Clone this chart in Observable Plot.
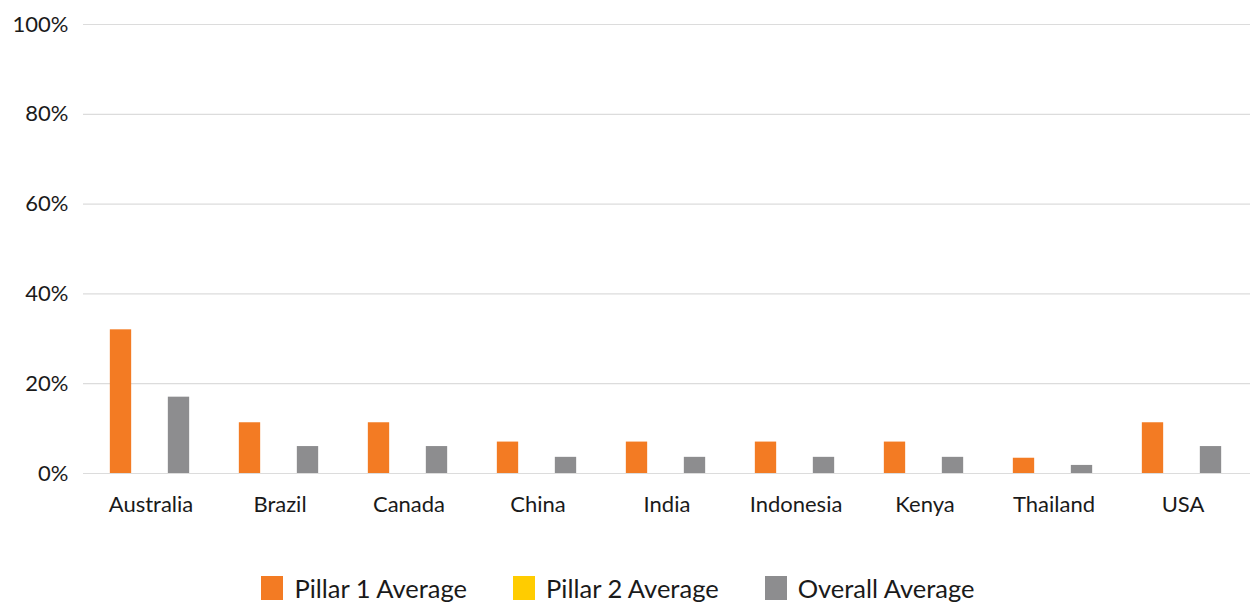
<!DOCTYPE html>
<html>
<head>
<meta charset="utf-8">
<script src="https://cdn.jsdelivr.net/npm/d3@7"></script>
<script src="https://cdn.jsdelivr.net/npm/@observablehq/plot@0.6"></script>
<style>
  html, body { margin: 0; padding: 0; background: #fff; }
  body { width: 1250px; height: 604px; overflow: hidden; font-family: Lato, "Open Sans", sans-serif; }
  #legend { display: flex; justify-content: center; align-items: center; margin-top: 23px; margin-left: -14px; font-size: 25.5px; color: #1a1a1a; }
  .item { display: flex; align-items: center; margin: 0 23px; }
  .sw { width: 22px; height: 24px; margin-right: 11px; }
</style>
</head>
<body>
<div id="chart"></div>
<div id="legend"></div>
<script>
// Countries and average scores (percent)
const countries = ["Australia", "Brazil", "Canada", "China", "India", "Indonesia", "Kenya", "Thailand", "USA"];
const pillar1 = [32, 11.3, 11.3, 7, 7, 7, 7, 3.4, 11.3];
const pillar2 = [0, 0, 0, 0, 0, 0, 0, 0, 0];
const overall = [17, 6, 6, 3.6, 3.6, 3.6, 3.6, 1.8, 6];
const seriesNames = ["Pillar 1 Average", "Pillar 2 Average", "Overall Average"];
const seriesColors = ["#f37b23", "#ffcc00", "#8d8d8f"];
const yTicks = [0, 20, 40, 60, 80, 100];

const seriesValues = [pillar1, pillar2, overall];
const rows = seriesNames.flatMap((s, i) =>
  countries.map((c, j) => ({country: c, series: s, value: seriesValues[i][j]}))
);

const width = 1250, height = 550;
const offsets = [-30, 0, 28];   // side-by-side position within each country band
const barW = 22;
const step = (width - 83) / countries.length;
const inset = (step - barW) / 2;

const chart = Plot.plot({
  width, height,
  marginLeft: 83, marginRight: 0, marginTop: 24, marginBottom: 77,
  style: {fontFamily: "Lato, 'Open Sans', sans-serif", fontSize: "22px", color: "#1a1a1a", background: "#fff"},
  x: {domain: countries, padding: 0, label: null},
  y: {domain: [0, 100], label: null},
  color: {domain: seriesNames, range: seriesColors},
  marks: [
    Plot.ruleY(yTicks, {stroke: "#dcdcdc", strokeWidth: 1.2}),
    Plot.axisY({ticks: yTicks, tickFormat: d => d + "%", tickSize: 0, tickPadding: 15, label: null, fontSize: 22, fill: "#1a1a1a"}),
    Plot.axisX({tickSize: 0, tickPadding: 23, label: null, fontSize: 22, fill: "#1a1a1a"}),
    ...seriesNames.map((s, i) =>
      Plot.barY(rows.filter(r => r.series === s), {
        x: "country", y: "value", fill: "series",
        dx: offsets[i], insetLeft: inset, insetRight: inset
      })
    )
  ]
});
document.getElementById("chart").append(chart);

const legend = d3.select("#legend");
seriesNames.forEach((s, i) => {
  const it = legend.append("div").attr("class", "item");
  it.append("div").attr("class", "sw").style("background", seriesColors[i]);
  it.append("span").text(s);
});
</script>
</body>
</html>
